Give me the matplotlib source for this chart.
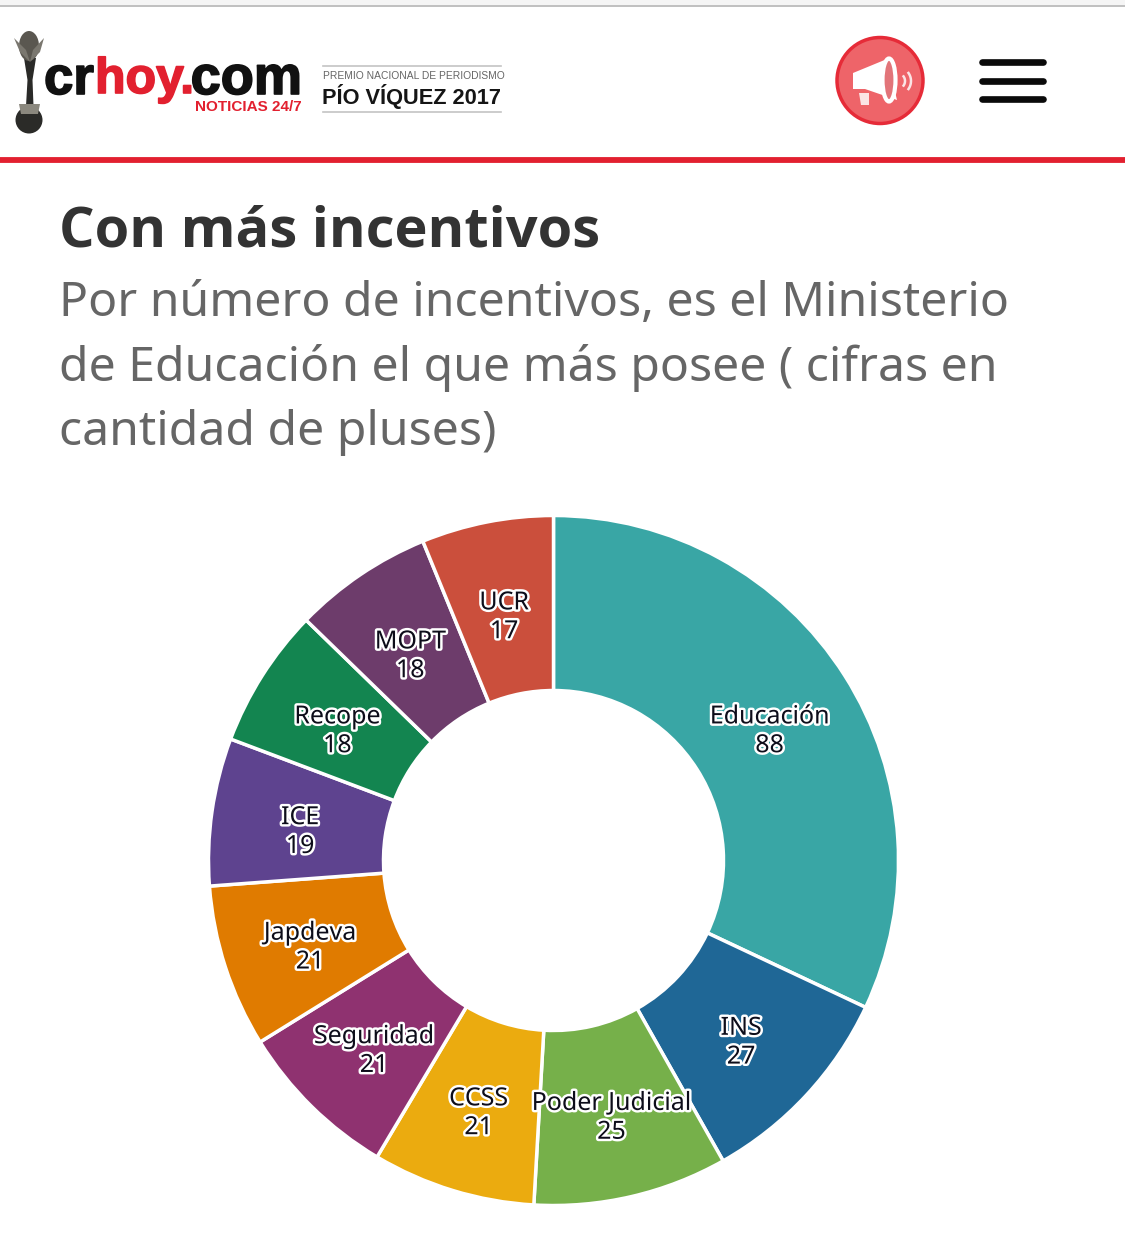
import matplotlib
matplotlib.use("Agg")
import matplotlib.pyplot as plt
import matplotlib.patheffects as pe
from matplotlib import font_manager as fm
from matplotlib.patches import Circle, Ellipse, Polygon
import numpy as np

categories = ["Educación", "INS", "Poder Judicial", "CCSS", "Seguridad",
              "Japdeva", "ICE", "Recope", "MOPT", "UCR"]
values = [88, 27, 25, 21, 21, 21, 19, 18, 18, 17]
colors = ["#39A6A5", "#1F6796", "#76B04A", "#EBAB0F", "#8F3270",
          "#E07B00", "#5E438F", "#138550", "#6D3C6B", "#CB4F3C"]
title = "Con más incentivos"
subtitle = ["Por número de incentivos, es el Ministerio",
            "de Educación el que más posee ( cifras en",
            "cantidad de pluses)"]

W, H = 1125, 1259
fig = plt.figure(figsize=(W / 100, H / 100), dpi=100, facecolor="white")
ax = fig.add_axes([0, 0, 1, 1])
ax.set_xlim(0, W)
ax.set_ylim(0, H)
ax.axis("off")
Y = lambda y: H - y

names = {f.name for f in fm.fontManager.ttflist}
narrow = "Liberation Sans Narrow" in names

# browser edge and header rule
ax.fill_between([0, W], Y(5), Y(0), color="#F5F5F5", lw=0)
ax.plot([0, W], [Y(5.5)] * 2, color="#B5B5B5", lw=1.2)
ax.plot([0, W], [Y(159.5)] * 2, color="#E2202F", lw=4.2, solid_capstyle="butt")

# logo
F = "Liberation Sans"
heavy = [pe.withStroke(linewidth=1.2, foreground="#111111")]
heavy_r = [pe.withStroke(linewidth=1.2, foreground="#E2202F")]
ax.add_patch(Polygon([(24, Y(58)), (36, Y(58)), (32.5, Y(80)), (33.5, Y(106)), (26, Y(106)), (27.5, Y(80))],
                     color="#2A2A28", lw=0))
ax.add_patch(Ellipse((29, Y(46)), 20, 30, color="#5A5750", lw=0))
ax.add_patch(Polygon([(14, Y(38)), (26, Y(50)), (30, Y(62)), (20, Y(52))], color="#7A776F", lw=0))
ax.add_patch(Polygon([(44, Y(38)), (33, Y(50)), (30, Y(62)), (40, Y(52))], color="#7A776F", lw=0))
ax.add_patch(Ellipse((29, Y(120)), 27, 27, color="#2B2B28", lw=0))
ax.add_patch(Polygon([(19, Y(104)), (40, Y(104)), (38, Y(114)), (21, Y(114))], color="#8B887E", lw=0))
ax.text(44, Y(80), "cr", family=F, weight="bold", fontsize=38, color="#111111", va="center", ha="left", path_effects=heavy)
ax.text(302, Y(80), "com", family=F, weight="bold", fontsize=39, color="#111111", va="center", ha="right", path_effects=heavy)
ax.text(95, Y(80), "hoy.", family=F, weight="bold", fontsize=36, color="#E2202F", va="center", ha="left", path_effects=heavy_r)
ax.text(302, Y(106.5), "NOTICIAS 24/7", family=F, weight="bold", fontsize=11, color="#E2202F", va="center", ha="right")
ax.plot([323, 501], [Y(66)] * 2, color="#C4C4C4", lw=1.2)
ax.plot([323, 501], [Y(112)] * 2, color="#C4C4C4", lw=1.2)
ax.text(323, Y(76), "PREMIO NACIONAL DE PERIODISMO", family=F, fontsize=7.4, color="#666666", va="center", ha="left")
if narrow:
    ax.text(322, Y(96), "PÍO VÍQUEZ 2017", family="Liberation Sans Narrow", weight="bold", fontsize=18.5,
            color="#151515", va="center", ha="left")
else:
    ax.text(322, Y(96), "PÍO VÍQUEZ 2017", family=F, weight="bold", fontsize=15.7,
            color="#151515", va="center", ha="left")

# megaphone button
ax.add_patch(Circle((880, Y(80.5)), 43, facecolor="#EE6469", edgecolor="#E62B38", lw=2.5))
ax.add_patch(Polygon([(853, Y(73)), (887, Y(59)), (897, Y(100)), (865, Y(89)), (853, Y(89))], color="white", lw=0))
ax.add_patch(Ellipse((889, Y(80)), 13, 43, facecolor="#E27479", edgecolor="white", lw=3))
ax.add_patch(Polygon([(859, Y(93)), (869, Y(93)), (869, Y(105)), (861, Y(105))], color="#FBE4E5", lw=0))
for r_ in (8, 14):
    a = np.linspace(-35, 35, 20) * np.pi / 180
    ax.plot(897 + r_ * np.cos(a), Y(81) + r_ * np.sin(a), color="#FBE4E5", lw=1.8)

# menu icon
for y in (62, 80.5, 99):
    ax.plot([982, 1043], [Y(y)] * 2, color="#0A0A0A", lw=4.8, solid_capstyle="round")

# headings
ax.text(59, Y(232), title, family="Open Sans", weight="bold", fontsize=40.3, color="#333333", va="center", ha="left")
for i, line in enumerate(subtitle):
    ax.text(59, Y(303 + 64.5 * i), line, family="Noto Sans", fontsize=34.7, color="#666666", va="center", ha="left")

# donut
cx, cy, R, r = 553.5, Y(860.5), 345, 170
ax.pie(values, colors=colors, startangle=90, counterclock=False, center=(cx, cy), radius=R,
       frame=True, wedgeprops=dict(width=R - r, edgecolor="white", linewidth=2.5))
ax.set_xlim(0, W)
ax.set_ylim(0, H)
ax.set_aspect("auto")
ax.axis("off")

total = sum(values)
cum = 0
for name, v in zip(categories, values):
    mid = (cum + v / 2) / total * 2 * np.pi
    cum += v
    x = cx + 256 * np.sin(mid)
    y = cy + 256 * np.cos(mid) - 8
    ax.text(x, y, f"{name}\n{v}", family="Noto Sans", fontsize=18, color="#0D0D1A",
            ha="center", va="center", linespacing=1.2,
            path_effects=[pe.withStroke(linewidth=3.5, foreground="white")])

fig.savefig("out.png", dpi=100, facecolor="white")
